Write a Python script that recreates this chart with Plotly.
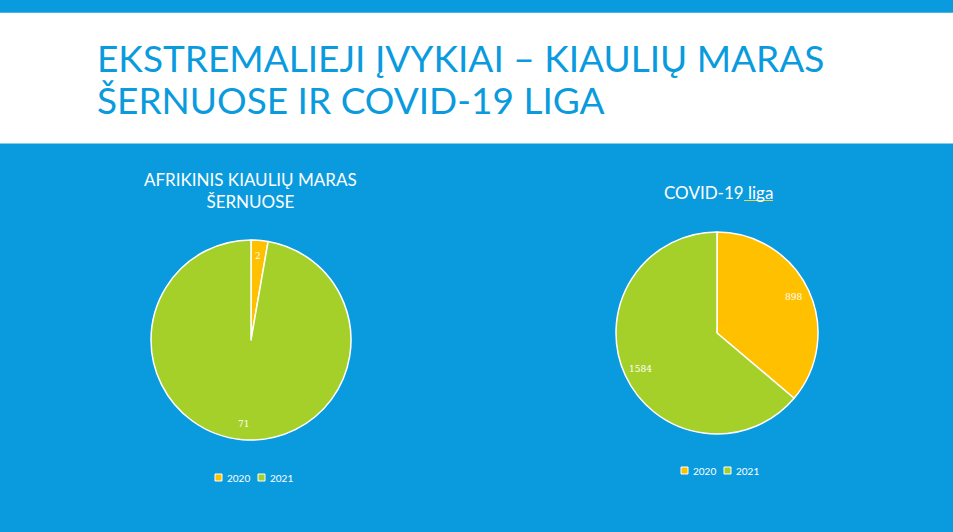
import math
import plotly.graph_objects as go

W, H = 953, 532

years = ["2020", "2021"]
asf_values = [2, 71]
covid_values = [898, 1584]
colors = ["#FFC000", "#A5D02A"]

title_lines = ["EKSTREMALIEJI ĮVYKIAI – KIAULIŲ MARAS", "ŠERNUOSE IR COVID-19 LIGA"]
asf_title = "AFRIKINIS KIAULIŲ MARAS<br>ŠERNUOSE"
covid_title = "COVID-19 liga"

BLUE = "#0A9BDE"

def px(x):
    return x / W

def py(y):
    return 1 - y / H

# pie geometry and legend placement (pixels)
pies = [
    dict(values=asf_values, cx=251, cy=340, r=100, leg_x=[215, 258], leg_y=477.5),
    dict(values=covid_values, cx=717, cy=333, r=101, leg_x=[681, 724], leg_y=470.5),
]

fig = go.Figure()
annotations = []
shapes = [
    dict(type="rect", xref="paper", yref="paper", x0=0, x1=1, y0=py(143.5), y1=py(12.7),
         fillcolor="white", line=dict(width=0), layer="below"),
    dict(type="line", xref="paper", yref="paper", x0=px(744), x1=px(773), y0=py(200.5), y1=py(200.5),
         line=dict(color="#E8D84A", width=1)),
]

for p in pies:
    fig.add_trace(go.Pie(
        labels=years, values=p["values"], sort=False, direction="clockwise",
        rotation=0, marker=dict(colors=colors, line=dict(color="white", width=1.5)),
        textinfo="none", hoverinfo="label+value", showlegend=False,
        domain=dict(x=[px(p["cx"] - p["r"]), px(p["cx"] + p["r"])],
                    y=[py(p["cy"] + p["r"]), py(p["cy"] - p["r"])]),
    ))
    total = sum(p["values"])
    start = 0.0
    for v in p["values"]:
        ang = (start + v / total * 180.0) * math.pi / 180.0
        start += v / total * 360.0
        rr = 0.84 * p["r"]
        x = p["cx"] + rr * math.sin(ang)
        y = p["cy"] - rr * math.cos(ang)
        annotations.append(dict(x=px(x), y=py(y), xref="paper", yref="paper",
                                xanchor="center", yanchor="middle",
                                text=str(v), showarrow=False,
                                font=dict(family="DejaVu Serif", size=9, color="white")))
    # manual legend
    for lx, lab, col in zip(p["leg_x"], years, colors):
        shapes.append(dict(type="rect", xref="paper", yref="paper",
                           x0=px(lx), x1=px(lx + 7), y0=py(p["leg_y"] + 3.5), y1=py(p["leg_y"] - 3.5),
                           fillcolor=col, line=dict(color="white", width=1)))
        annotations.append(dict(x=px(lx + 10), y=py(p["leg_y"]), xref="paper", yref="paper",
                                xanchor="left", yanchor="middle", showarrow=False, text=lab,
                                font=dict(family="Lato", size=10, color="white")))

# main title, two lines
annotations.append(dict(x=px(95), y=py(82.5), xref="paper", yref="paper", xanchor="left",
                        yanchor="bottom", showarrow=False, text=title_lines[0],
                        font=dict(family="Lato", size=37, color=BLUE)))
annotations.append(dict(x=px(95), y=py(123.5), xref="paper", yref="paper", xanchor="left",
                        yanchor="bottom", showarrow=False, text=title_lines[1],
                        font=dict(family="Lato", size=37, color=BLUE)))
annotations.append(dict(x=px(251), y=py(190), xref="paper", yref="paper",
                        xanchor="center", yanchor="middle",
                        showarrow=False, text=asf_title,
                        font=dict(family="Lato", size=17, color="white")))
annotations.append(dict(x=px(718), y=py(193), xref="paper", yref="paper",
                        xanchor="center", yanchor="middle",
                        showarrow=False, text=covid_title,
                        font=dict(family="Lato", size=17, color="white")))

fig.update_layout(
    width=W, height=H, margin=dict(l=0, r=0, t=0, b=0),
    paper_bgcolor=BLUE, plot_bgcolor=BLUE,
    annotations=annotations, shapes=shapes, showlegend=False,
)

fig.write_html("out.html", config={"displayModeBar": False},
               post_script="document.body.style.margin='0';")
